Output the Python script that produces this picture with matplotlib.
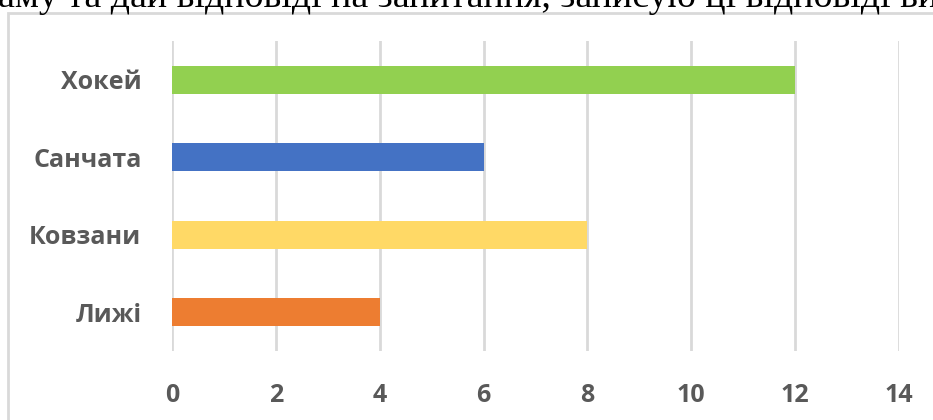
import matplotlib
matplotlib.use("Agg")
import matplotlib.pyplot as plt
from matplotlib.patches import Rectangle

categories = ["Лижі", "Ковзани", "Санчата", "Хокей"]
values = [4, 8, 6, 12]
colors = ["#ED7D31", "#FFD966", "#4472C4", "#92D050"]
xticks = [0, 2, 4, 6, 8, 10, 12, 14]
header_text = "аму та дай відповіді на запитання, записую ці відповіді ви"

plt.rcParams["font.family"] = ["Open Sans", "Noto Sans", "DejaVu Sans"]
plt.rcParams["font.weight"] = "bold"

W, H = 933, 420
fig = plt.figure(figsize=(W / 100, H / 100), dpi=100)

# chart border
fig.patches.append(Rectangle((8 / W, -0.1), 1.2, (H - 13) / H + 0.1,
                             transform=fig.transFigure, fill=False,
                             edgecolor="#d9d9d9", linewidth=2))

# header text (cropped document text)
fig.text(-2 / W, 1 - 7 / H, header_text, family=["Liberation Serif", "DejaVu Serif"],
         fontweight="normal", fontsize=27.3, color="black", va="baseline", ha="left")

ax = fig.add_axes([172 / W, 69 / H, (899 - 172) / W, (351 - 41) / H])
ypos = list(range(len(categories)))
ax.barh(ypos, values, height=0.36, color=colors, zorder=3)
ax.set_xlim(0, 14)
ax.set_ylim(-0.5, len(categories) - 0.5)
ax.set_xticks(xticks)
ax.set_yticks(ypos)
ax.set_yticklabels(categories)
ax.grid(axis="x", color="#d9d9d9", linewidth=2, zorder=0)
ax.grid(axis="y", visible=False)
for s in ax.spines.values():
    s.set_visible(False)
ax.tick_params(length=0, labelsize=18, labelcolor="#595959")
ax.tick_params(axis="y", pad=22)
ax.tick_params(axis="x", pad=23)

fig.savefig("out.png", dpi=100)
